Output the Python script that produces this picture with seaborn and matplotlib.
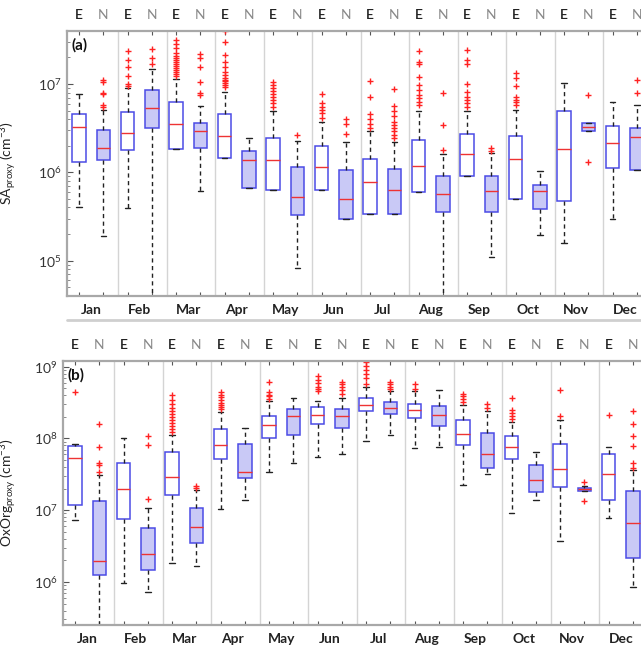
import numpy as np
import matplotlib
matplotlib.use("Agg")
import matplotlib.pyplot as plt
from matplotlib.lines import Line2D
import seaborn as sns

months = ['Jan', 'Feb', 'Mar', 'Apr', 'May', 'Jun',
          'Jul', 'Aug', 'Sep', 'Oct', 'Nov', 'Dec']
groups = ['E', 'N']

# (a) SA proxy, order: Jan E, Jan N, Feb E, Feb N, ...
sa_whislo = [4.1e5, 1.9e5, 3.9e5, 3e4, 1.85e6, 6.2e5, 1.45e6, 6.7e5, 6.3e5, 8.3e4, 6.3e5, 3.0e5,
             3.4e5, 3.4e5, 6.0e5, 3e4, 9.2e5, 1.09e5, 5.0e5, 1.93e5, 1.58e5, 2.95e6, 3.0e5, 1.07e6]
sa_q1 = [1.31e6, 1.37e6, 1.79e6, 3.2e6, 1.85e6, 1.9e6, 1.45e6, 6.7e5, 6.3e5, 3.3e5, 6.3e5, 3.0e5,
         3.4e5, 3.4e5, 6.0e5, 3.6e5, 9.2e5, 3.6e5, 5.0e5, 3.87e5, 4.7e5, 2.97e6, 1.11e6, 1.07e6]
sa_med = [3.3e6, 1.9e6, 2.77e6, 5.3e6, 3.56e6, 2.94e6, 2.6e6, 1.38e6, 1.38e6, 5.3e5, 1.16e6, 5.0e5,
          7.7e5, 6.3e5, 1.18e6, 5.7e5, 1.61e6, 6.2e5, 1.42e6, 6.2e5, 1.83e6, 3.3e6, 2.14e6, 2.5e6]
sa_q3 = [4.55e6, 3.0e6, 4.87e6, 8.55e6, 6.2e6, 3.6e6, 4.55e6, 1.75e6, 2.43e6, 1.15e6, 1.99e6, 1.07e6,
         1.42e6, 1.1e6, 2.33e6, 9.2e5, 2.7e6, 9.2e5, 2.58e6, 7.1e5, 4.95e6, 3.6e6, 3.35e6, 3.2e6]
sa_whishi = [7.66e6, 5.1e6, 8.9e6, 1.47e7, 1.15e7, 5.7e6, 8.2e6, 2.43e6, 5.0e6, 2.25e6, 3.75e6, 2.19e6,
             2.9e6, 2.2e6, 4.9e6, 1.62e6, 4.9e6, 1.65e6, 5.1e6, 1.04e6, 1.02e7, 3.65e6, 6.3e6, 5.8e6]
sa_fliers = [
    [],
    [1.11e7, 1.06e7, 8.0e6, 7.7e6, 5.8e6, 5.5e6],
    [2.36e7, 1.87e7, 1.55e7, 1.24e7, 9.9e6, 9.5e6],
    [2.48e7, 1.98e7, 1.67e7],
    [3.14e7, 2.83e7, 2.55e7, 2.24e7, 2.07e7, 1.97e7, 1.87e7, 1.77e7, 1.68e7, 1.6e7, 1.52e7,
     1.44e7, 1.37e7, 1.3e7, 1.23e7],
    [2.17e7, 1.95e7, 1.57e7, 1.04e7, 7.85e6, 7.5e6],
    [4.0e7, 3.0e7, 2.13e7, 1.79e7, 1.57e7, 1.38e7, 1.25e7, 1.18e7, 1.11e7, 1.07e7, 1.03e7,
     9.75e6, 9.2e6],
    [],
    [1.06e7, 9.75e6, 9.0e6, 8.3e6, 7.7e6, 7.1e6, 6.6e6, 6.1e6, 5.5e6],
    [2.66e6],
    [7.7e6, 6.05e6, 5.5e6, 5.1e6, 4.7e6, 4.1e6],
    [3.99e6, 3.53e6, 2.7e6],
    [1.08e7, 7.2e6, 4.55e6, 4.03e6, 3.5e6, 3.16e6],
    [8.7e6, 5.6e6, 4.9e6, 4.3e6, 3.75e6, 3.44e6, 3.16e6, 2.9e6, 2.66e6, 2.43e6],
    [2.36e7, 1.79e7, 1.67e7, 1.21e7, 9.75e6, 8.55e6, 7.5e6, 6.9e6, 6.3e6, 5.8e6],
    [7.85e6, 3.4e6, 1.8e6],
    [2.42e7, 1.87e7, 1.68e7, 9.9e6, 8.2e6, 7.1e6, 6.6e6, 6.1e6, 5.5e6],
    [1.9e6, 1.75e6],
    [1.32e7, 1.16e7, 9.5e6, 7.2e6, 6.6e6, 6.2e6, 5.8e6],
    [],
    [],
    [7.5e6, 1.3e6],
    [],
    [1.11e7, 7.85e6],
]

# (b) OxOrg proxy, same order
ox_whislo = [7.4e6, 1.5e5, 9.75e5, 7.2e5, 1.85e6, 1.66e6, 1.04e7, 1.39e7, 3.44e7, 4.6e7, 5.56e7, 6.05e7,
             9.2e7, 1.11e8, 7.3e7, 7.65e7, 2.25e7, 3.2e7, 9.1e6, 1.39e7, 3.68e6, 1.86e7, 7.9e6, 8.5e5]
ox_q1 = [1.19e7, 1.24e6, 7.6e6, 1.45e6, 1.64e7, 3.45e6, 5.2e7, 2.84e7, 1.02e8, 1.11e8, 1.58e8, 1.42e8,
         2.4e8, 2.17e8, 1.95e8, 1.5e8, 8.1e7, 3.9e7, 5.2e7, 1.8e7, 2.13e7, 1.86e7, 1.39e7, 2.17e6]
ox_med = [5.4e7, 1.99e6, 1.96e7, 2.48e6, 2.93e7, 5.9e6, 8.1e7, 3.44e7, 1.56e8, 2.04e8, 2.1e8, 2.04e8,
          2.9e8, 2.66e8, 2.47e8, 2.15e8, 1.17e8, 6.05e7, 7.65e7, 2.64e7, 3.75e7, 1.96e7, 3.2e7, 6.6e6]
ox_q3 = [7.9e7, 1.35e7, 4.6e7, 5.65e6, 6.5e7, 1.07e7, 1.35e8, 8.5e7, 2.04e8, 2.6e8, 2.74e8, 2.55e8,
         3.7e8, 3.2e8, 3.06e8, 2.83e8, 1.8e8, 1.2e8, 1.08e8, 4.27e7, 8.3e7, 2.02e7, 6.05e7, 1.86e7]
ox_whishi = [8.5e7, 3.1e7, 1.0e8, 1.09e7, 1.11e8, 1.92e7, 2.35e8, 1.42e8, 3.3e8, 3.66e8, 3.3e8, 3.7e8,
             5.2e8, 4.6e8, 4.6e8, 4.7e8, 2.9e8, 2.4e8, 1.7e8, 6.5e7, 1.8e8, 2.2e7, 7.65e7, 3.6e7]
ox_fliers = [
    [4.4e8],
    [1.6e8, 7.7e7, 4.5e7, 4.3e7, 3.4e7],
    [],
    [1.09e8, 8.1e7, 1.44e7],
    [4.0e8, 3.4e8, 3.0e8, 2.63e8, 2.39e8, 2.17e8, 1.97e8, 1.79e8, 1.63e8, 1.48e8, 1.35e8, 1.23e8],
    [2.2e7, 2.03e7],
    [4.4e8, 4.1e8, 3.74e8, 3.4e8, 3.09e8, 2.9e8, 2.72e8, 2.6e8],
    [],
    [6.2e8, 4.4e8, 4.1e8, 3.86e8, 3.58e8],
    [],
    [7.4e8, 6.6e8, 5.85e8, 5.3e8, 4.83e8, 4.53e8],
    [6.2e8, 5.66e8, 5.15e8, 4.68e8, 4.2e8],
    [1.15e9, 1.04e9, 9.15e8, 7.8e8, 6.86e8, 5.8e8],
    [6.2e8, 5.66e8, 5.2e8, 4.94e8],
    [5.8e8, 4.95e8],
    [],
    [4.2e8, 3.86e8, 3.57e8, 3.22e8],
    [3.06e8, 2.66e8],
    [3.66e8, 2.47e8, 2.25e8, 2.07e8, 1.89e8],
    [],
    [4.7e8, 2.04e8],
    [2.48e7, 1.35e7],
    [2.1e8],
    [2.4e8, 1.6e8, 1.08e8, 7.9e7, 4.5e7, 3.9e7],
]

sns.set_theme(style="white")
plt.rcParams['font.family'] = ['Lato', 'DejaVu Sans']
plt.rcParams['mathtext.fontset'] = 'custom'
plt.rcParams['mathtext.rm'] = 'Lato'
plt.rcParams['mathtext.it'] = 'Lato:italic'
plt.rcParams['mathtext.bf'] = 'Lato:bold'

W, H = 641, 646
fig = plt.figure(figsize=(W / 100, H / 100), dpi=100)

edge = '#4b4be6'
nfill = '#c9c9f6'


def panel(rect, whislo, q1, med, q3, whishi, fliers, ylim, ylabel, tag, lab_x):
    ax = fig.add_axes(rect)
    n = len(med)
    pos = np.arange(1, n + 1)
    stats = []
    for i in range(n):
        stats.append(dict(whislo=whislo[i], q1=q1[i], med=med[i], q3=q3[i],
                          whishi=whishi[i], fliers=fliers[i]))

    # month separators
    for s in np.arange(2.5, n, 2) + 0.12:
        ax.axvline(s, color='#d4d4d4', lw=1, zorder=0.5)

    bp = ax.bxp(stats, positions=pos, widths=0.55, patch_artist=True, capwidths=0.22,
                boxprops=dict(edgecolor=edge, linewidth=1.1),
                medianprops=dict(color='#ee3333', linewidth=1.0),
                whiskerprops=dict(color='#222222', linestyle=(0, (3, 2.5)), linewidth=1.0),
                capprops=dict(color='#222222', linewidth=1.0),
                flierprops=dict(marker='+', markeredgecolor='#ff2222', markersize=5,
                                markeredgewidth=1.0, linestyle='none'))
    for i, b in enumerate(bp['boxes']):
        b.set_facecolor('white' if i % 2 == 0 else nfill)

    ax.set_yscale('log')
    ax.set_ylim(*ylim)
    ax.set_xlim(0.5, n + 0.5)

    ax.set_xticks(pos)
    ax.set_xticklabels(groups * (n // 2))
    ax.set_xticks(np.arange(1.5, n, 2), minor=True)
    ax.set_xticklabels(months, minor=True)
    ax.tick_params(axis='x', which='major', direction='in', length=3, width=0.8,
                   color='#555555', top=True, bottom=True, labeltop=True,
                   labelbottom=False, pad=7, labelsize=10)
    ax.tick_params(axis='x', which='minor', length=0, labeltop=False,
                   labelbottom=True, pad=6, labelsize=10)
    for t in ax.get_xticklabels(minor=True):
        t.set_fontweight('bold')
        t.set_color('#222222')
    for i, t in enumerate(ax.xaxis.get_major_ticks()):
        if i % 2 == 0:
            t.label2.set_color('#222222')
            t.label2.set_fontweight('semibold')
        else:
            t.label2.set_color('#888888')
    ax.tick_params(axis='y', which='major', direction='in', length=4, width=0.8,
                   color='#555555', left=True, labelsize=10, labelcolor='#333333', pad=4)
    ax.tick_params(axis='y', which='minor', direction='in', length=2, width=0.6,
                   color='#777777', left=True)

    for sp in ax.spines.values():
        sp.set_color('#a8a8a8')
        sp.set_linewidth(1.6)

    ax.set_ylabel(ylabel, fontsize=10, color='#222222')
    ax.yaxis.set_label_coords(lab_x, 0.5)
    ax.text(0.008, 0.945, tag, transform=ax.transAxes, fontsize=11,
            fontweight='bold', ha='left', va='center', color='#111111')
    return ax


# panel (a)
panel([67 / W, 1 - 296 / H, 582 / W, 265 / H],
      sa_whislo, sa_q1, sa_med, sa_q3, sa_whishi, sa_fliers,
      (10 ** 4.6, 10 ** 7.6), r'SA$_{\rm proxy}$ (cm$^{-3}$)', '(a)', -0.082)

# panel (b)
panel([63 / W, 1 - 625 / H, 582 / W, 264 / H],
      ox_whislo, ox_q1, ox_med, ox_q3, ox_whishi, ox_fliers,
      (10 ** 5.4, 10 ** 9.08), r'OxOrg$_{\rm proxy}$ (cm$^{-3}$)', '(b)', -0.075)

fig.add_artist(Line2D([67 / W, 1.0], [1 - 320 / H, 1 - 320 / H], transform=fig.transFigure,
                      color='#cfcfcf', lw=2))

fig.savefig('out.png', dpi=100)
